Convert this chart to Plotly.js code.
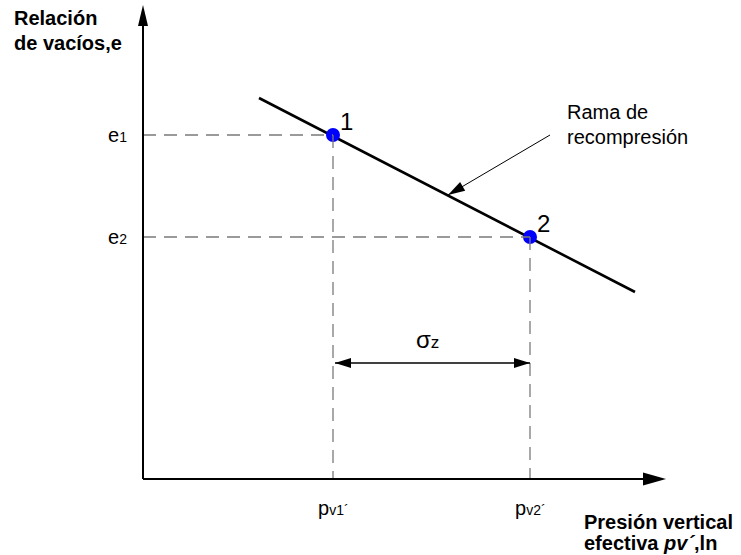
<!DOCTYPE html>
<html>
<head>
<meta charset="utf-8">
<script src="https://cdn.plot.ly/plotly-3.0.1.min.js"></script>
<style>
  html, body { margin: 0; padding: 0; background: #fff; }
  #chart { width: 741px; height: 555px; }
</style>
</head>
<body>
<div id="chart"></div>
<script>
// schematic units: 1 unit = 100 px on both axes, axes cross at (0, 0)
var lineX = [1.16, 4.92]
var lineY = [3.81, 1.87]
var pointX = [1.90, 3.87]
var pointY = [3.44, 2.42]
var pointLabels = ['1', '2']
var eLabels = ['e<span style="font-size:14px">1</span>', 'e<span style="font-size:14px">2</span>']
var pLabels = ['p<span style="font-size:14px">v1´</span>', 'p<span style="font-size:14px">v2´</span>']
var axisTipX = 5.23
var axisTipY = 4.74
var sigmaY = 1.16
var sigmaX = [1.92, 3.87]
var ramaFrom = [4.07, 3.44]
var ramaTip = [3.05, 2.84]

var FONT = '"Liberation Sans", Arial, sans-serif'

// filled arrow head; len and wid in px (100 px = 1 unit)
function head (fx, fy, tx, ty, len, wid) {
  var dx = tx - fx, dy = ty - fy
  var d = Math.sqrt(dx * dx + dy * dy)
  var ux = dx / d, uy = dy / d
  var L = len / 100, W = wid / 200
  var bx = tx - ux * L, by = ty - uy * L
  return {
    type: 'path',
    path: 'M' + tx + ',' + ty +
      'L' + (bx - uy * W) + ',' + (by + ux * W) +
      'L' + (bx + uy * W) + ',' + (by - ux * W) + 'Z',
    xref: 'x', yref: 'y',
    fillcolor: '#000', line: { width: 0 }
  }
}

function seg (x0, y0, x1, y1, w, color, dash) {
  return {
    type: 'line', xref: 'x', yref: 'y',
    x0: x0, y0: y0, x1: x1, y1: y1,
    line: { color: color, width: w, dash: dash || 'solid' }
  }
}

var shapes = []
// dashed guides
for (var i = 0; i < pointX.length; i++) {
  shapes.push(seg(0, pointY[i], pointX[i], pointY[i], 1.3, '#7a7a7a', '13px,8px'))
  shapes.push(seg(pointX[i], pointY[i], pointX[i], 0, 1.3, '#7a7a7a', '13px,8px'))
}
// axes with arrows
shapes.push(seg(0, 0, 0, axisTipY - 0.1, 2, '#000'))
shapes.push(head(0, 0, 0, axisTipY, 21, 10))
shapes.push(seg(0, 0, axisTipX - 0.1, 0, 2, '#000'))
shapes.push(head(0, 0, axisTipX, 0, 23, 13))
// sigma double arrow
shapes.push(seg(sigmaX[0], sigmaY, sigmaX[1], sigmaY, 1.5, '#000'))
shapes.push(head(sigmaX[1], sigmaY, sigmaX[0], sigmaY, 16, 10))
shapes.push(head(sigmaX[0], sigmaY, sigmaX[1], sigmaY, 16, 10))
// pointer to the branch
shapes.push(seg(ramaFrom[0], ramaFrom[1], ramaTip[0], ramaTip[1], 1, '#000'))
shapes.push(head(ramaFrom[0], ramaFrom[1], ramaTip[0], ramaTip[1], 17, 10))

var data = [
  {
    type: 'scatter', mode: 'lines',
    x: lineX, y: lineY,
    line: { color: '#000', width: 2.6 },
    hoverinfo: 'skip'
  },
  {
    type: 'scatter', mode: 'markers',
    x: pointX, y: pointY,
    marker: { color: '#0000ff', size: 14, line: { width: 0 } },
    hoverinfo: 'skip'
  }
]

var annotations = []
function txt (x, y, text, opts) {
  var a = {
    x: x, y: y, text: text, showarrow: false,
    xref: 'x', yref: 'y',
    font: { family: FONT, size: 20, color: '#000' }
  }
  for (var k in opts) a[k] = opts[k]
  annotations.push(a)
}

for (var j = 0; j < pointX.length; j++) {
  txt(-0.14, pointY[j], eLabels[j], { xanchor: 'right', yanchor: 'middle' })
  txt(pointX[j], -0.29, pLabels[j], { xanchor: 'center', yanchor: 'middle' })
  txt(pointX[j], pointY[j], pointLabels[j], {
    xanchor: 'center', yanchor: 'middle', xshift: 13, yshift: 14,
    font: { family: FONT, size: 24, color: '#000' }
  })
}
txt((sigmaX[0] + sigmaX[1]) / 2, sigmaY, 'σ<span style="font-size:17px">z</span>', {
  xanchor: 'center', yanchor: 'middle', xshift: -5, yshift: 24,
  font: { family: FONT, size: 24, color: '#000' }
})

function ptxt (px, py, text, bold) {
  annotations.push({
    xref: 'paper', yref: 'paper',
    x: px / 741, y: 1 - py / 555,
    xanchor: 'left', yanchor: 'middle',
    text: bold ? '<b>' + text + '</b>' : text,
    showarrow: false,
    font: { family: FONT, size: 20, color: '#000' }
  })
}
ptxt(12, 18, 'Relación', true)
ptxt(12, 43, 'de vacíos,e', true)
ptxt(565, 112, 'Rama de', false)
ptxt(565, 137, 'recompresión', false)
ptxt(582, 522, 'Presión vertical', true)
ptxt(582, 543, 'efectiva <i>pv´</i>,ln', true)

var layout = {
  width: 741,
  height: 555,
  margin: { l: 0, r: 0, t: 0, b: 0, pad: 0 },
  paper_bgcolor: '#fff',
  plot_bgcolor: '#fff',
  showlegend: false,
  xaxis: { range: [-1.43, 5.98], visible: false, fixedrange: true },
  yaxis: { range: [-0.76, 4.79], visible: false, fixedrange: true },
  shapes: shapes,
  annotations: annotations
}

Plotly.newPlot('chart', data, layout, { displayModeBar: false, staticPlot: true })
</script>
</body>
</html>
